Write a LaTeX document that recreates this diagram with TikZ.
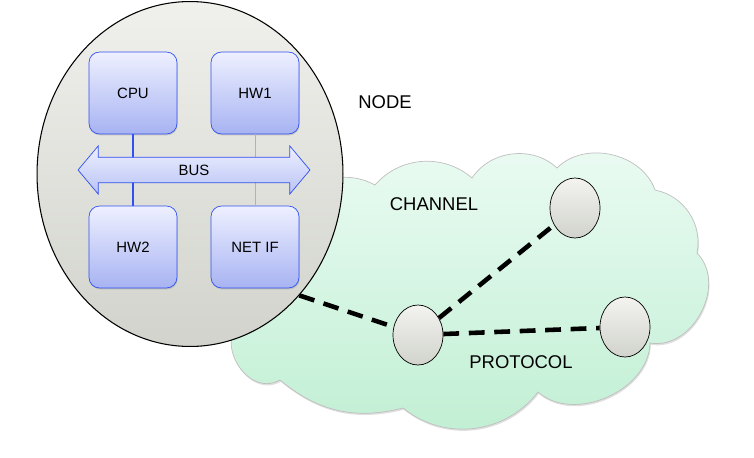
\documentclass[tikz,border=0pt]{standalone}
\usepackage{fontspec}
\setmainfont{Liberation Sans}
\usetikzlibrary{shapes.geometric,shapes.arrows,shadows}
\definecolor{hwblue}{HTML}{3050F0}
\definecolor{boxtop}{HTML}{EEF0FF}
\definecolor{boxbot}{HTML}{A7B3F2}
\definecolor{hosttop}{HTML}{F0F0EC}
\definecolor{hostbot}{HTML}{D1D3CC}
\definecolor{skytop}{HTML}{EBFBF3}
\definecolor{skybot}{HTML}{C0EFD3}
\tikzset{font=\fontsize{10.5}{12}\selectfont}
\tikzset{
  hwbox/.style={draw=hwblue, rounded corners=6pt, top color=boxtop, bottom color=boxbot,
    minimum width=1.76cm, minimum height=1.64cm, font=\fontsize{8.5}{10}\selectfont,
    drop shadow={shadow xshift=.4pt, shadow yshift=-.8pt, opacity=.3}},
  peer/.style={ellipse, draw, thin, top color=hosttop!80!white, bottom color=hostbot,
    minimum width=1cm, minimum height=1.2cm, inner sep=0pt},
  link/.style={line width=2.6pt, dash pattern=on 9pt off 5.5pt},
}

\begin{document}
\begin{tikzpicture}[x=0.02cm, y=-0.02cm]
\useasboundingbox (0,0) rectangle (754,457);
% channel cloud
\draw[draw=black!25, top color=skytop, bottom color=skybot,
  drop shadow={shadow xshift=.5pt, shadow yshift=-1pt, opacity=.25}]
  (300,200) to[bend left=40] (375,185) to[bend left=45] (472,178)
  to[bend left=50] (557,168) to[bend left=58] (655,190)
  to[bend left=45] (697,253) to[bend left=72, looseness=1.1] (650,343)
  to[bend left=65] (538,392) to[bend left=46] (403,408)
  to[bend left=27] (280,380) to[bend left=90, looseness=1.4] (245,318)
  to[bend left=40] (300,200) -- cycle;
% the node itself
\node[ellipse, draw, semithick, top color=hosttop, bottom color=hostbot,
  minimum width=6.12cm, minimum height=6.9cm, inner sep=0pt] (host) at (190,174) {};
\node[hwbox] (cpu) at (133,93) {CPU};
\node[hwbox] (hwa) at (255,93) {HW1};
\node[hwbox] (hwb) at (133,247) {HW2};
\node[hwbox] (netif) at (255,247) {NET IF};
\draw[hwblue, line width=.6pt] (cpu) -- (hwb);
\draw[black!30] (hwa) -- (netif);
\node[double arrow, draw=hwblue, top color=boxtop, bottom color=boxbot!80!white,
  minimum height=4.64cm, minimum width=0.96cm, double arrow head extend=0.23cm,
  double arrow tip angle=100, inner ysep=4pt, font=\fontsize{8.5}{10}\selectfont]
  (bus) at (194,170) {BUS};
% peers and links
\node[peer] (p1) at (418,335) {};
\node[peer] (p2) at (575,208) {};
\node[peer] (p3) at (625,327) {};
\draw[link] (host.-48) -- (p1);
\draw[link] (p1) -- (p2);
\draw[link] (p1) -- (p3);
\node (nodelbl) at (385,102) {NODE};
\node (chanlbl) at (434,204) {CHANNEL};
\node (protlbl) at (521,362) {PROTOCOL};
\end{tikzpicture}
\end{document}
